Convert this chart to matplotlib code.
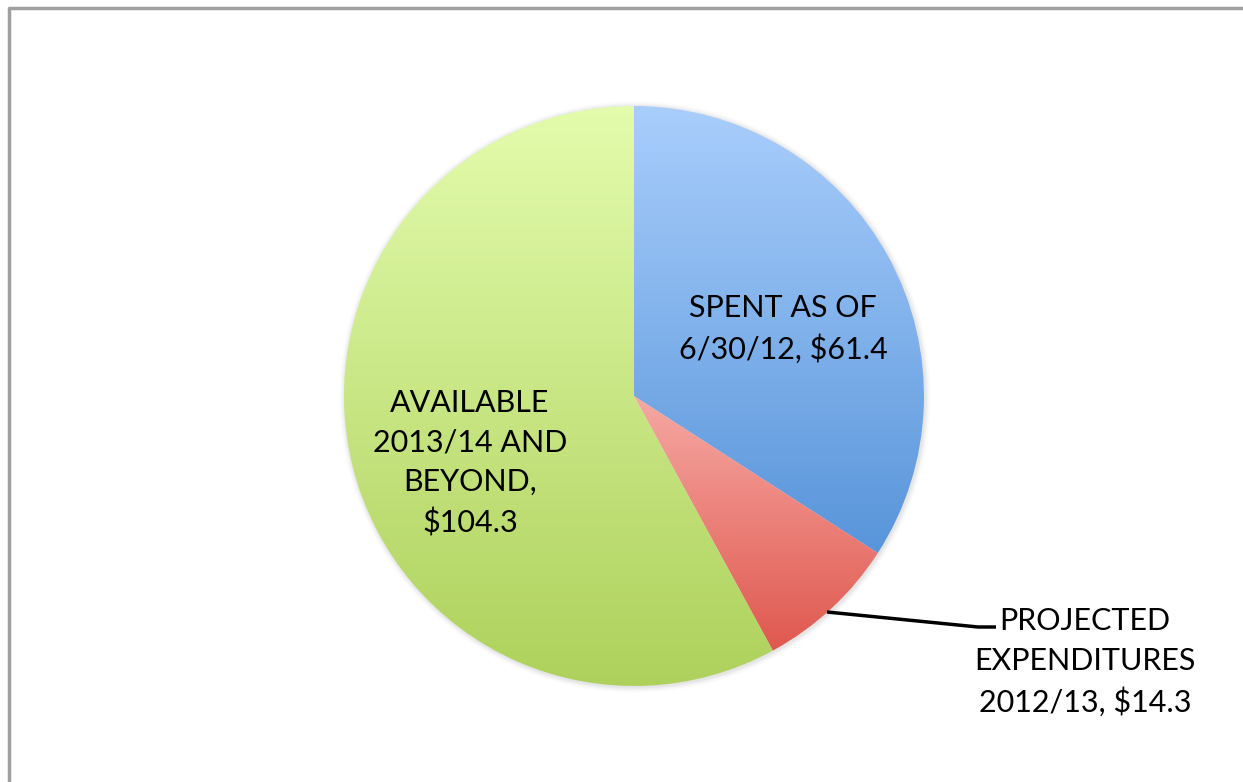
import matplotlib.pyplot as plt
import numpy as np
from matplotlib.colors import LinearSegmentedColormap
from matplotlib.patches import Circle

labels = ['SPENT AS OF\n6/30/12, $61.4',
          'PROJECTED\nEXPENDITURES\n2012/13, $14.3',
          'AVAILABLE\n2013/14 AND\nBEYOND,\n$104.3']
values = [61.4, 14.3, 104.3]
top_colors = ['#a9cefc', '#f6a8a3', '#e3fcad']
bottom_colors = ['#5895da', '#df584e', '#aed15c']

W, H = 1243, 782
fig = plt.figure(figsize=(W / 100, H / 100), dpi=100)
ax = fig.add_axes([0, 0, 1, 1])
ax.axis('off')

cx, cy, r = 634, H - 396, 290

# soft shadow under the pie
for i, a in enumerate(np.linspace(0.05, 0.01, 6)):
    ax.add_patch(Circle((cx + 1, cy - 1), r + 1 + i, color='#808080', alpha=a, lw=0, zorder=1))

wedges, _ = ax.pie(values, startangle=90, counterclock=False, center=(cx, cy), radius=r,
                   wedgeprops=dict(linewidth=0, edgecolor='none'))

grad = np.linspace(0, 1, 256).reshape(-1, 1)
for w, c0, c1 in zip(wedges, top_colors, bottom_colors):
    w.set_facecolor('none')
    w.set_zorder(2)
    bb = w.get_path().get_extents()
    cmap = LinearSegmentedColormap.from_list('g', [c0, c1])
    im = ax.imshow(grad, cmap=cmap, aspect='auto', origin='upper',
                   extent=(bb.x0, bb.x1, bb.y0, bb.y1), zorder=2, interpolation='bilinear')
    im.set_clip_path(w)

font = dict(family=['Lato', 'DejaVu Sans'], fontsize=22, color='black',
            ha='center', va='center', linespacing=1.5, zorder=5)
ax.text(783, H - 329, labels[0], **font)
ax.text(1085, H - 662, labels[1], **font)
ax.text(470, H - 463, labels[2], **font)

# leader line
ax.plot([827, 978, 996], [H - 612, H - 627, H - 627], color='black', lw=2.5,
        solid_capstyle='butt', zorder=4)

# frame (top and left edges visible)
ax.plot([9, 9, W], [0, H - 8, H - 8], color='#a0a0a0', lw=2.5, solid_capstyle='butt', zorder=6)

ax.set_xlim(0, W)
ax.set_ylim(0, H)
ax.set_aspect('equal')

fig.savefig('out.png', dpi=100)
